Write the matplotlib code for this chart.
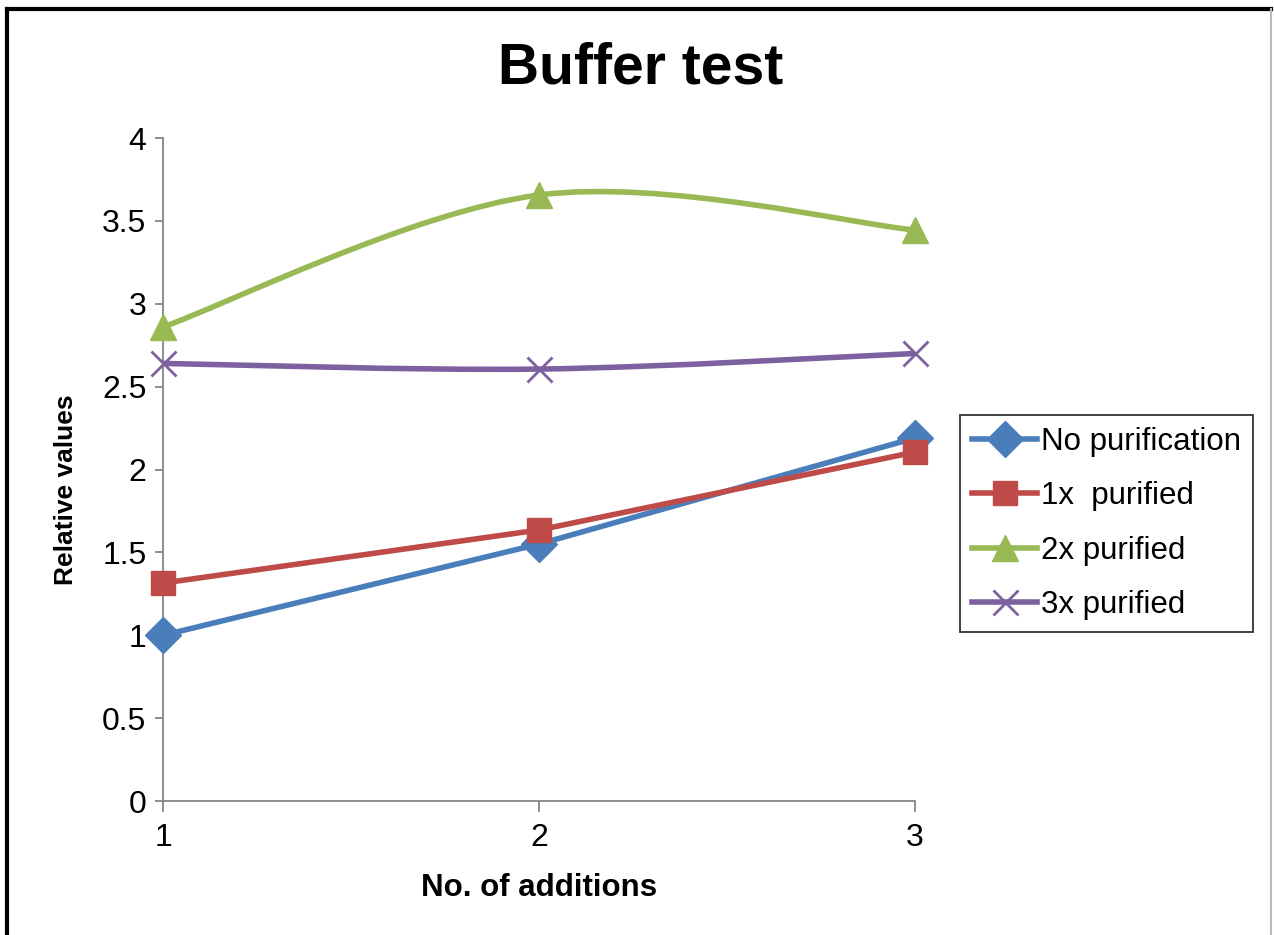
import matplotlib
matplotlib.use("Agg")
import matplotlib.pyplot as plt
from matplotlib.path import Path
from matplotlib.patches import PathPatch
from matplotlib.lines import Line2D

# data
additions = [1, 2, 3]
no_purification = [1.00, 1.55, 2.19]
purified_1x = [1.315, 1.635, 2.105]
purified_2x = [2.86, 3.656, 3.445]
purified_3x = [2.64, 2.606, 2.70]

series_names = ["No purification", "1x  purified", "2x purified", "3x purified"]
colors = ["#4A7EBB", "#BE4B48", "#98B954", "#7D60A0"]

plt.rcParams['font.family'] = ['Liberation Sans', 'DejaVu Sans']


def smooth_path(xs, ys):
    # Excel-style smoothed line: cubic bezier segments through the points
    pts = list(zip(xs, ys))
    n = len(pts)
    verts = [pts[0]]
    codes = [Path.MOVETO]
    for i in range(n - 1):
        p0 = pts[max(i - 1, 0)]
        p1 = pts[i]
        p2 = pts[i + 1]
        p3 = pts[min(i + 2, n - 1)]
        c1 = (p1[0] + (p2[0] - p0[0]) / 6, p1[1] + (p2[1] - p0[1]) / 6)
        c2 = (p2[0] - (p3[0] - p1[0]) / 6, p2[1] - (p3[1] - p1[1]) / 6)
        verts += [c1, c2, p2]
        codes += [Path.CURVE4] * 3
    return Path(verts, codes)


fig = plt.figure(figsize=(12.74, 9.35), dpi=100)
ax = fig.add_axes([0.128, 0.1433, 0.590, 0.7091])

lw = 4
styles = [
    dict(marker="D", markersize=18, mew=1),
    dict(marker="s", markersize=17, mew=1),
    dict(marker="^", markersize=19, mew=1),
    dict(marker="x", markersize=18, mew=2),
]
data = [no_purification, purified_1x, purified_2x, purified_3x]
smooth = [False, False, True, True]

handles = []
for vals, name, col, st, sm in zip(data, series_names, colors, styles, smooth):
    if sm:
        ax.add_patch(PathPatch(smooth_path(additions, vals), facecolor="none",
                               edgecolor=col, lw=lw, capstyle="round", zorder=2))
        ax.plot(additions, vals, linestyle="none", color=col, mfc=col, mec=col,
                clip_on=False, zorder=3, **st)
    else:
        ax.plot(additions, vals, color=col, lw=lw, mfc=col, mec=col,
                clip_on=False, zorder=3, solid_capstyle="round", **st)
    handles.append(Line2D([0], [0], color=col, lw=lw, mfc=col, mec=col,
                          label=name, **st))

ax.set_xlim(1, 3)
ax.set_ylim(0, 4)
ax.set_xticks([1, 2, 3])
ax.set_yticks([0, 0.5, 1, 1.5, 2, 2.5, 3, 3.5, 4])
ax.set_yticklabels(["0", "0.5", "1", "1.5", "2", "2.5", "3", "3.5", "4"])

for s in ["top", "right"]:
    ax.spines[s].set_visible(False)
for s in ["left", "bottom"]:
    ax.spines[s].set_color("#868686")
    ax.spines[s].set_linewidth(1.3)
ax.tick_params(axis="y", direction="out", length=6, width=1.3,
               color="#868686", labelsize=23, pad=6)
ax.tick_params(axis="x", direction="out", length=8, width=1.3,
               color="#868686", labelsize=23, pad=8)

ax.set_xlabel("No. of additions", fontsize=22.5, fontweight="bold")
ax.xaxis.set_label_coords(0.5, -0.108)
ax.set_ylabel("Relative values", fontsize=19, fontweight="bold")
ax.yaxis.set_label_coords(-0.113, 0.47)
fig.text(0.503, 0.927, "Buffer test", ha="center", va="center",
         fontsize=41, fontweight="bold")

leg = fig.legend(handles=handles, loc="upper left",
                 bbox_to_anchor=(0.7535, 0.556), borderaxespad=0,
                 fontsize=22.5, handlelength=2.1, handletextpad=0.12,
                 labelspacing=0.78, borderpad=0.38, fancybox=False,
                 frameon=True)
leg.get_frame().set_edgecolor("black")
leg.get_frame().set_linewidth(1.3)

# outer chart border
fig.add_artist(Line2D([0.0055, 0.0055], [0, 0.990], color="black", lw=3,
                      transform=fig.transFigure))
fig.add_artist(Line2D([0.0055, 0.998], [0.990, 0.990], color="black", lw=3,
                      transform=fig.transFigure))
fig.add_artist(Line2D([0.998, 0.998], [0, 0.990], color="#BBBBBB", lw=1.5,
                      transform=fig.transFigure))

fig.savefig("out.png", dpi=100)
